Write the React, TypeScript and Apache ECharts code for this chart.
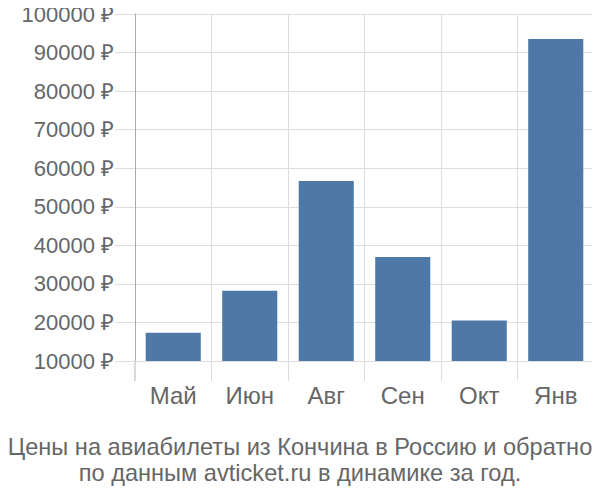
import { useEffect, useRef } from 'react';
import * as echarts from 'echarts';

const months = ['Май', 'Июн', 'Авг', 'Сен', 'Окт', 'Янв'];
const prices = [17300, 28200, 56700, 37000, 20500, 93500];
const titleLines = [
  'Цены на авиабилеты из Кончина в Россию и обратно',
  'по данным avticket.ru в динамике за год.',
];

const FONT = '"Liberation Sans", Arial, sans-serif';
const TEXT = '#666';
const GRID = '#ddd';

// plot area in px
const LEFT = 135;
const TOP = 14;
const RIGHT = 6;
const BOTTOM = 139;

export default function App() {
  const box = useRef<HTMLDivElement>(null);

  useEffect(() => {
    if (!box.current) return;
    const chart = echarts.init(box.current, null, { renderer: 'svg' });
    const axisBottom = 500 - BOTTOM;

    chart.setOption({
      animation: false,
      textStyle: { fontFamily: FONT },
      title: {
        text: titleLines.join('\n'),
        left: 'center',
        top: 434,
        padding: 0,
        textStyle: {
          fontFamily: FONT,
          fontSize: 23.6,
          fontWeight: 'normal',
          color: TEXT,
          lineHeight: 26,
        },
      },
      grid: { left: LEFT, right: RIGHT, top: TOP, bottom: BOTTOM },
      xAxis: {
        type: 'category',
        data: months,
        axisLine: { show: false },
        axisTick: {
          show: true,
          interval: 0,
          length: 20,
          lineStyle: { color: GRID },
        },
        splitLine: { show: true, interval: 0, lineStyle: { color: GRID } },
        axisLabel: { color: TEXT, fontSize: 24, margin: 22, fontFamily: FONT },
      },
      yAxis: {
        type: 'value',
        min: 10000,
        max: 100000,
        interval: 10000,
        axisLine: { show: true, lineStyle: { color: '#aaa' } },
        axisTick: { show: true, length: 20, lineStyle: { color: GRID } },
        splitLine: { lineStyle: { color: GRID } },
        axisLabel: {
          color: TEXT,
          fontSize: 22,
          margin: 21,
          fontFamily: FONT,
          formatter: (v: number) => `${v} ₽`,
        },
      },
      graphic: [
        {
          type: 'line',
          shape: { x1: LEFT, y1: axisBottom, x2: LEFT, y2: axisBottom + 20 },
          style: { stroke: '#aaa', lineWidth: 1 },
        },
      ],
      series: [
        {
          type: 'bar',
          data: prices,
          barCategoryGap: '28%',
          itemStyle: { color: '#4e79a7' },
        },
      ],
    });

    return () => chart.dispose();
  }, []);

  return <div ref={box} style={{ width: 600, height: 500, margin: -8 }} />;
}
